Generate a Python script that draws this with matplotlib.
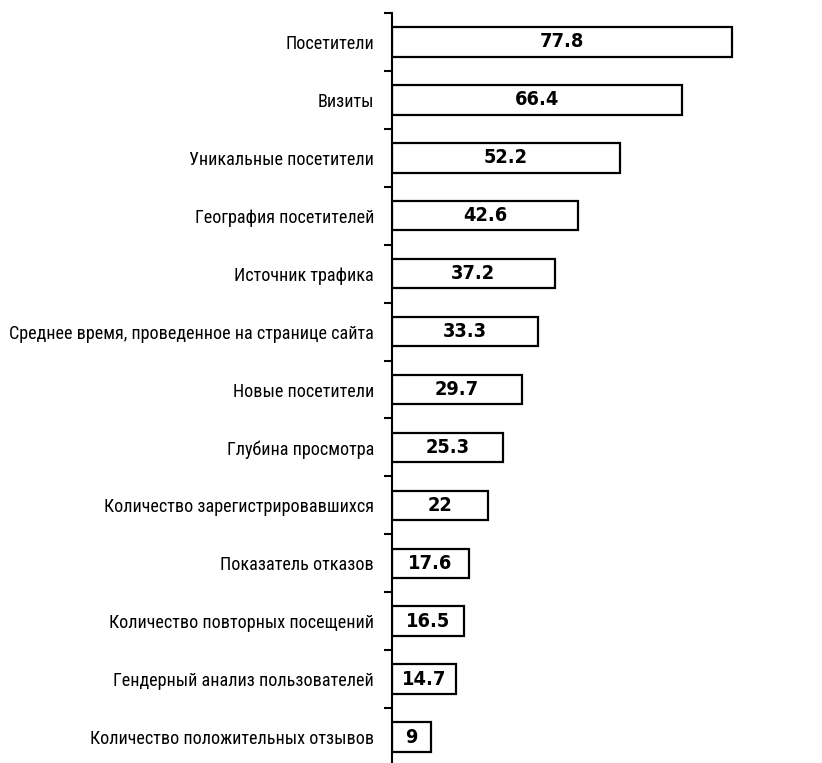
import matplotlib
matplotlib.use("Agg")
import matplotlib.pyplot as plt
from matplotlib import font_manager

# metrics and their share, top to bottom
metrics = [
    "Посетители",
    "Визиты",
    "Уникальные посетители",
    "География посетителей",
    "Источник трафика",
    "Среднее время, проведенное на странице сайта",
    "Новые посетители",
    "Глубина просмотра",
    "Количество зарегистрировавшихся",
    "Показатель отказов",
    "Количество повторных посещений",
    "Гендерный анализ пользователей",
    "Количество положительных отзывов",
]
values = [77.8, 66.4, 52.2, 42.6, 37.2, 33.3, 29.7, 25.3, 22, 17.6, 16.5, 14.7, 9]

# prefer a narrow face for the long category names
fonts = font_manager.fontManager.ttflist
names = {f.name for f in fonts}
if "Liberation Sans Narrow" in names:
    label_font = dict(family="Liberation Sans Narrow")
elif "Roboto Condensed" in names:
    label_font = dict(family="Roboto Condensed")
elif any(f.name == "DejaVu Sans" and f.stretch == "condensed" for f in fonts):
    label_font = dict(family="DejaVu Sans", stretch="condensed")
else:
    label_font = dict(family="DejaVu Sans")
has_dv_cond = any(f.name == "DejaVu Sans" and f.stretch == "condensed"
                  and f.weight in ("bold", 700) for f in fonts)
value_font = dict(family="DejaVu Sans", weight="bold",
                  stretch="condensed" if has_dv_cond else "normal")

fig = plt.figure(figsize=(8.22, 7.63), dpi=100)
ax = fig.add_axes([0.477, -0.004, 0.523, 0.987])

n = len(metrics)
pos = list(range(n))
ax.barh(pos, values, height=0.51, color="white", edgecolor="black", linewidth=1.6)

# size the labels so the longest one spans about 364 px
renderer = fig.canvas.get_renderer()
probe = fig.text(0, 0, max(metrics, key=len), fontsize=12, **label_font)
w = probe.get_window_extent(renderer).width
probe.remove()
label_size = min(14, 12 * 364 / w)

probe = fig.text(0, 0, "77.8", fontsize=13, **value_font)
w = probe.get_window_extent(renderer).width
probe.remove()
value_size = min(15.5, 13 * 44 / w)

for y, v in zip(pos, values):
    ax.text(v / 2, y, f"{v:g}", ha="center", va="center",
            fontsize=value_size, color="black", **value_font)

ax.set_ylim(n - 0.5, -0.5)
ax.set_xlim(0, 98.4)

ax.set_yticks(pos)
ax.set_yticklabels(metrics, fontsize=label_size, **label_font)
ax.tick_params(axis="y", which="major", length=0, pad=13)
# boundary ticks between categories
ax.set_yticks([p - 0.5 for p in pos] + [n - 0.5], minor=True)
ax.tick_params(axis="y", which="minor", length=6, width=1.5, direction="out")

ax.set_xticks([])
for side in ("top", "right", "bottom"):
    ax.spines[side].set_visible(False)
ax.spines["left"].set_linewidth(1.5)

fig.savefig("out.png", dpi=100, facecolor="white")
